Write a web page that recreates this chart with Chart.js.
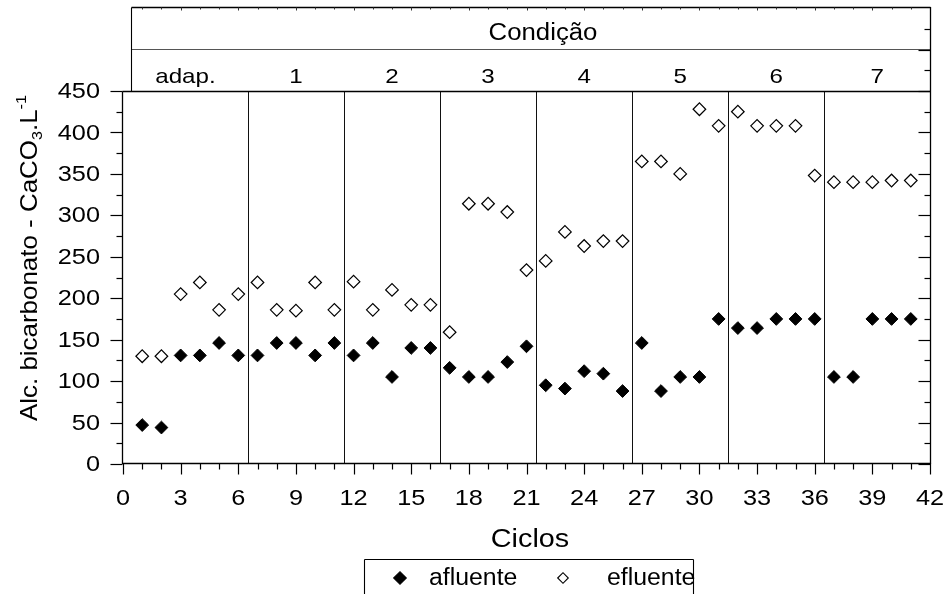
<!DOCTYPE html>
<html><head><meta charset="utf-8">
<script src="https://cdn.jsdelivr.net/npm/chart.js@4/dist/chart.umd.min.js"></script>
<style>html,body{margin:0;padding:0;background:#fff}#wrap{width:948px;height:594px;position:relative}</style>
</head><body><div id="wrap"><canvas id="c" width="948" height="594"></canvas></div>
<script>
// ---- data ----
const cycles = [1,2,3,4,5,6,7,8,9,10,11,12,13,14,15,16,17,18,19,20,21,22,23,24,25,26,27,28,29,30,31,32,33,34,35,36,37,38,39,40,41];
const afluente = [47,44,131,131,146,131,131,146,146,131,146,131,146,105,140,140,116,105,105,123,142,95,91,112,109,88,146,88,105,105,175,164,164,175,175,175,105,105,175,175,175];
const efluente = [130,130,205,219,186,205,219,186,185,219,186,220,186,210,192,192,159,314,314,304,234,245,280,263,269,269,365,365,350,428,408,425,408,408,408,348,340,340,340,342,342];
const conditionLabels = ['adap.','1','2','3','4','5','6','7'];
const conditionBounds = [0,6.5,11.5,16.5,21.5,26.5,31.5,36.5,42];
const xTicks = [0,3,6,9,12,15,18,21,24,27,30,33,36,39,42];
const yTicks = [0,50,100,150,200,250,300,350,400,450];
const headerTitle = 'Condição';
const xTitle = 'Ciclos';
const seriesNames = ['afluente','efluente'];

const FONT = '"Liberation Sans", Arial, sans-serif';
function txt(ctx, s, x, y, size, align, baseline, sx) {
  ctx.save();
  ctx.font = size + 'px ' + FONT;
  ctx.translate(x, y);
  ctx.scale(sx || 1, 1);
  ctx.textAlign = align; ctx.textBaseline = baseline;
  ctx.fillStyle = '#000';
  ctx.fillText(s, 0, 0);
  ctx.restore();
}
function line(ctx, x1, y1, x2, y2, w, c) {
  ctx.save(); ctx.beginPath(); ctx.lineWidth = w || 1; ctx.strokeStyle = c || '#000';
  ctx.moveTo(x1, y1); ctx.lineTo(x2, y2); ctx.stroke(); ctx.restore();
}
function diamond(ctx, x, y, r, fill) {
  ctx.save(); ctx.beginPath();
  ctx.moveTo(x - r, y); ctx.lineTo(x, y - r); ctx.lineTo(x + r, y); ctx.lineTo(x, y + r); ctx.closePath();
  ctx.lineWidth = 1.1; ctx.strokeStyle = '#000';
  ctx.fillStyle = fill ? '#000' : '#fff';
  ctx.fill(); ctx.stroke(); ctx.restore();
}

const framePlugin = {
  id: 'frame',
  beforeDatasetsDraw(chart) {
    const ctx = chart.ctx, xs = chart.scales.x, ys = chart.scales.y;
    const L = Math.round(xs.getPixelForValue(0)) - 0.5;
    const R = Math.round(xs.getPixelForValue(42)) + 0.5;
    const T = Math.round(ys.getPixelForValue(450)) + 0.5;
    const B = Math.round(ys.getPixelForValue(0)) - 0.5;
    const headTop = 7.5, headMid = 49.5, headLeft = 131.5;
    // condition dividers
    for (let i = 1; i < conditionBounds.length - 1; i++) {
      const px = Math.round(xs.getPixelForValue(conditionBounds[i])) + 0.5;
      line(ctx, px, T, px, B, 1, '#111');
    }
    // header box
    line(ctx, headLeft, headTop, R, headTop, 1.3);
    line(ctx, headLeft, headMid, R, headMid, 1, '#555');
    line(ctx, headLeft, headTop, headLeft, T, 1.1);
    for (let v = 1; v < 42; v++) {
      const px = Math.round(xs.getPixelForValue(v)) + 0.5;
      line(ctx, px, headTop, px, headTop + (v % 3 === 0 ? 3 : 2), 1, '#333');
    }
    // plot frame
    line(ctx, L, T, R, T, 1.3);
    line(ctx, L, B, R, B, 1.3);
    line(ctx, L, T, L, B + 0.5, 1.3);
    line(ctx, R, headTop - 0.5, R, B + 0.5, 1.3);
    // y ticks (left outward, right inward)
    for (let v = 0; v <= 525; v += 25) {
      const py = Math.round(ys.getPixelForValue(v)) + 0.5;
      const major = v % 50 === 0;
      if (v <= 450) line(ctx, L - (major ? 12 : 6), py, L, py, 1.2);
      line(ctx, R - (major ? 12 : 6), py, R, py, 1.2);
    }
    // x ticks (outward)
    for (let v = 0; v <= 42; v++) {
      const px = Math.round(xs.getPixelForValue(v)) + 0.5;
      line(ctx, px, B, px, B + (v % 3 === 0 ? 11 : 6), 1.2);
    }
  },
  afterDraw(chart) {
    const ctx = chart.ctx, xs = chart.scales.x, ys = chart.scales.y;
    xTicks.forEach(v => txt(ctx, String(v), xs.getPixelForValue(v), 505, 22, 'center', 'alphabetic', 1.15));
    yTicks.forEach(v => txt(ctx, String(v), 100, ys.getPixelForValue(v) + 1, 22, 'right', 'middle', 1.15));
    txt(ctx, headerTitle, 543, 40, 23, 'center', 'alphabetic', 1.12);
    for (let i = 0; i < conditionLabels.length; i++) {
      const mid = (conditionBounds[i] + conditionBounds[i + 1]) / 2;
      txt(ctx, conditionLabels[i], xs.getPixelForValue(mid), 83, 21, 'center', 'alphabetic', 1.15);
    }
    txt(ctx, xTitle, 530, 547, 25, 'center', 'alphabetic', 1.15);
    ctx.save();
    ctx.translate(37, 258);
    ctx.rotate(-Math.PI / 2);
    ctx.scale(1.08, 1);
    ctx.fillStyle = '#000';
    ctx.textBaseline = 'alphabetic';
    const parts = [
      { s: 'Alc. bicarbonato - CaCO', f: 24, dy: 0 },
      { s: '3', f: 15, dy: 5 },
      { s: '.L', f: 24, dy: 0 },
      { s: '-1', f: 15, dy: -11 }
    ];
    let total = 0;
    parts.forEach(p => { ctx.font = p.f + 'px ' + FONT; p.w = ctx.measureText(p.s).width; total += p.w; });
    let cx = -total / 2;
    parts.forEach(p => { ctx.font = p.f + 'px ' + FONT; ctx.textAlign = 'left'; ctx.fillText(p.s, cx, p.dy); cx += p.w; });
    ctx.restore();
    const lx1 = 364.5, lx2 = 693.5, ly = 559.5;
    line(ctx, lx1, ly, lx2, ly, 1.1);
    line(ctx, lx1, ly, lx1, 600, 1.1);
    line(ctx, lx2, ly, lx2, 600, 1.1);
    diamond(ctx, 400, 578, 6.3, true);
    txt(ctx, seriesNames[0], 429, 585, 23, 'left', 'alphabetic', 1.08);
    diamond(ctx, 563, 578, 5.3, false);
    txt(ctx, seriesNames[1], 607, 585, 23, 'left', 'alphabetic', 1.08);
  }
};

new Chart(document.getElementById('c'), {
  type: 'scatter',
  data: {
    datasets: [
      { label: seriesNames[0], data: cycles.map((c, i) => ({ x: c, y: afluente[i] })),
        pointStyle: 'rectRot', pointRadius: 6.4, pointBackgroundColor: '#000', pointBorderColor: '#000', pointBorderWidth: 1, showLine: false },
      { label: seriesNames[1], data: cycles.map((c, i) => ({ x: c, y: efluente[i] })),
        pointStyle: 'rectRot', pointRadius: 6.3, pointBackgroundColor: '#fff', pointBorderColor: '#000', pointBorderWidth: 1.2, showLine: false }
    ]
  },
  options: {
    responsive: false, animation: false, devicePixelRatio: 1,
    layout: { padding: { left: 123, right: 18, top: 91, bottom: 130 } },
    scales: {
      x: { type: 'linear', min: 0, max: 42, display: false },
      y: { type: 'linear', min: 0, max: 450, display: false }
    },
    plugins: { legend: { display: false }, tooltip: { enabled: false } }
  },
  plugins: [framePlugin]
});
</script>
</body></html>
